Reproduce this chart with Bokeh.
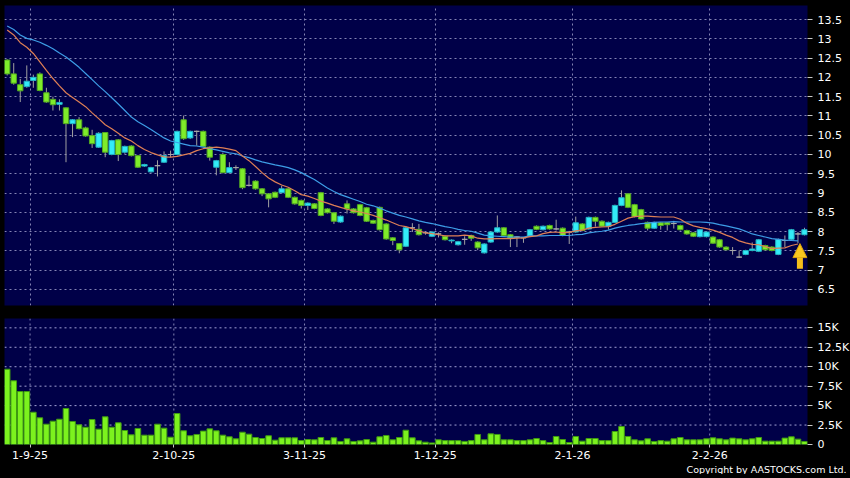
from bokeh.plotting import figure
from bokeh.layouts import column
from bokeh.models import (ColumnDataSource, FixedTicker, Range1d, Arrow, NormalHead, Title, Span)
from bokeh.embed import file_html
from bokeh.resources import INLINE

# ---------------- data ----------------
opens = [12.45, 12.09, 11.81, 11.76, 11.92, 12.09, 11.60, 11.43, 11.30, 11.21,
         10.80, 10.90, 10.69, 10.49, 10.19, 10.57, 10.00, 10.38, 10.06, 10.22,
         9.97, 9.70, 9.55, 9.71, 9.80, 10.00, 10.00, 10.90, 10.43, 10.60,
         10.60, 10.19, 9.67, 10.00, 9.53, 9.66, 9.63, 9.20, 9.31, 9.11,
         8.98, 9.02, 9.01, 9.11, 8.89, 8.81, 8.68, 8.72, 9.01, 8.59,
         8.49, 8.25, 8.72, 8.59, 8.70, 8.62, 8.29, 8.63, 8.20, 7.84,
         7.69, 7.62, 8.10, 8.06, 7.97, 7.88, 7.94, 7.88, 7.76, 7.66,
         7.80, 7.90, 7.73, 7.45, 7.73, 7.99, 8.10, 7.92, 7.86, 7.84,
         7.88, 8.14, 8.05, 8.16, 8.07, 8.09, 7.99, 7.99, 8.20, 8.07,
         8.37, 8.27, 8.14, 8.24, 8.68, 8.98, 8.70, 8.57, 8.24, 8.09,
         8.23, 8.23, 8.21, 8.16, 8.03, 7.97, 7.87, 7.87, 7.86, 7.79,
         7.60, 7.51, 7.34, 7.41, 7.51, 7.49, 7.64, 7.60, 7.41, 7.77,
         7.80, 7.94, 7.92]
highs = [12.47, 12.37, 11.96, 12.31, 12.07, 12.13, 11.73, 11.50, 11.43, 11.22,
         10.92, 10.97, 10.72, 10.64, 10.58, 10.58, 10.38, 10.40, 10.23, 10.24,
         9.99, 9.76, 9.68, 9.85, 10.08, 10.10, 10.62, 11.01, 10.62, 10.62,
         10.62, 10.21, 9.86, 10.05, 9.80, 9.72, 9.65, 9.45, 9.33, 9.13,
         9.00, 9.04, 9.19, 9.13, 8.91, 8.83, 8.76, 8.74, 9.03, 8.61,
         8.51, 8.42, 8.81, 8.61, 8.72, 8.64, 8.31, 8.65, 8.22, 7.86,
         7.70, 8.12, 8.22, 8.20, 8.00, 8.01, 7.98, 7.90, 7.80, 7.76,
         7.88, 7.92, 7.75, 7.70, 8.01, 8.42, 8.12, 7.94, 7.88, 7.86,
         8.07, 8.16, 8.16, 8.18, 8.31, 8.11, 8.02, 8.39, 8.22, 8.39,
         8.39, 8.29, 8.26, 8.70, 9.07, 9.00, 8.72, 8.59, 8.26, 8.26,
         8.25, 8.25, 8.28, 8.18, 8.05, 7.99, 8.07, 8.01, 7.88, 7.81,
         7.62, 7.60, 7.51, 7.53, 7.72, 7.81, 7.66, 7.62, 7.82, 7.90,
         8.07, 7.99, 8.10]
lows = [12.05, 11.81, 11.36, 11.73, 11.73, 11.64, 11.34, 11.14, 11.14, 9.80,
        10.45, 10.65, 10.46, 10.17, 10.17, 9.93, 9.98, 9.83, 10.02, 9.95,
        9.65, 9.68, 9.53, 9.43, 9.78, 9.93, 9.98, 10.38, 10.40, 10.23,
        10.19, 9.84, 9.46, 9.51, 9.51, 9.60, 9.10, 9.17, 9.09, 8.92,
        8.63, 8.87, 8.99, 8.87, 8.70, 8.60, 8.56, 8.58, 8.40, 8.47,
        8.20, 8.23, 8.47, 8.47, 8.40, 8.25, 8.20, 8.03, 7.79, 7.65,
        7.44, 7.60, 7.99, 7.90, 7.92, 7.86, 7.85, 7.77, 7.70, 7.64,
        7.66, 7.76, 7.52, 7.43, 7.71, 7.97, 7.88, 7.60, 7.60, 7.71,
        7.86, 8.04, 8.03, 8.05, 8.03, 7.88, 7.68, 7.97, 8.01, 8.05,
        8.13, 8.12, 8.05, 8.22, 8.66, 8.61, 8.37, 8.31, 8.03, 8.07,
        8.05, 8.03, 8.08, 8.03, 7.92, 7.86, 7.85, 7.85, 7.68, 7.58,
        7.51, 7.40, 7.32, 7.39, 7.49, 7.47, 7.51, 7.49, 7.39, 7.60,
        7.78, 7.70, 7.90]
closes = [12.09, 11.85, 11.65, 11.90, 12.00, 11.66, 11.36, 11.29, 11.35, 10.80,
          10.90, 10.67, 10.48, 10.28, 10.55, 10.06, 10.36, 10.00, 10.21, 9.97,
          9.67, 9.74, 9.66, 9.71, 9.97, 10.00, 10.60, 10.41, 10.60, 10.60,
          10.21, 9.93, 9.84, 9.53, 9.66, 9.66, 9.14, 9.20, 9.11, 8.98,
          8.85, 8.89, 9.11, 8.89, 8.72, 8.68, 8.74, 8.60, 8.42, 8.49,
          8.27, 8.40, 8.59, 8.49, 8.42, 8.27, 8.22, 8.05, 7.81, 7.77,
          7.53, 8.10, 8.10, 7.92, 7.97, 7.99, 7.94, 7.79, 7.78, 7.74,
          7.80, 7.83, 7.58, 7.68, 7.99, 8.10, 7.90, 7.83, 7.86, 7.84,
          8.05, 8.06, 8.14, 8.07, 8.07, 7.90, 7.99, 8.23, 8.03, 8.37,
          8.27, 8.14, 8.24, 8.68, 8.88, 8.63, 8.39, 8.33, 8.09, 8.24,
          8.16, 8.18, 8.21, 8.05, 7.94, 7.88, 8.05, 7.99, 7.70, 7.60,
          7.53, 7.51, 7.34, 7.51, 7.55, 7.79, 7.53, 7.51, 7.80, 7.77,
          8.05, 7.94, 8.05]
volumes = [9680, 8190, 6810, 6810, 4150, 3430, 2610, 3000, 3250, 4630,
           2960, 2530, 2220, 3210, 1970, 3560, 2220, 2790, 1800, 1240,
           2060, 1200, 1200, 2610, 2100, 940, 3980, 1760, 1120, 1290,
           1720, 2010, 1760, 1200, 990, 730, 1580, 1330, 900, 770,
           1120, 560, 860, 860, 860, 510, 640, 600, 900, 510,
           860, 390, 730, 390, 470, 640, 300, 990, 1160, 600,
           900, 1840, 860, 470, 300, 200, 600, 500, 500, 500,
           400, 500, 1290, 600, 1370, 1290, 600, 600, 500, 500,
           600, 770, 500, 250, 1030, 640, 250, 1030, 430, 770,
           770, 500, 500, 1670, 2310, 1030, 600, 470, 730, 390,
           500, 430, 730, 900, 600, 600, 600, 730, 860, 730,
           600, 820, 730, 600, 730, 900, 430, 430, 430, 820,
           990, 690, 390]
ma10 = [13.23, 13.10, 12.90, 12.78, 12.62, 12.40, 12.18, 11.97, 11.78, 11.60,
        11.48, 11.36, 11.24, 11.08, 10.93, 10.77, 10.67, 10.55, 10.43, 10.35,
        10.23, 10.13, 10.05, 9.99, 9.94, 9.93, 9.95, 9.99, 10.03, 10.10,
        10.15, 10.17, 10.19, 10.17, 10.14, 10.10, 9.96, 9.84, 9.69, 9.53,
        9.39, 9.29, 9.21, 9.15, 9.06, 8.96, 8.92, 8.86, 8.79, 8.74,
        8.68, 8.63, 8.58, 8.54, 8.51, 8.47, 8.42, 8.36, 8.30, 8.23,
        8.16, 8.13, 8.08, 8.02, 7.97, 7.95, 7.92, 7.89, 7.89, 7.89,
        7.91, 7.89, 7.83, 7.81, 7.81, 7.82, 7.82, 7.82, 7.83, 7.84,
        7.87, 7.89, 7.95, 7.98, 7.99, 7.97, 7.98, 8.02, 8.04, 8.09,
        8.11, 8.12, 8.13, 8.19, 8.27, 8.35, 8.39, 8.40, 8.40, 8.39,
        8.38, 8.38, 8.38, 8.32, 8.22, 8.15, 8.11, 8.08, 8.04, 7.98,
        7.91, 7.85, 7.76, 7.71, 7.67, 7.66, 7.61, 7.56, 7.57, 7.58,
        7.64, 7.68]
ma20 = [13.33, 13.24, 13.10, 13.01, 12.97, 12.91, 12.83, 12.74, 12.63, 12.53,
        12.40, 12.26, 12.10, 11.94, 11.78, 11.63, 11.47, 11.31, 11.14, 10.97,
        10.85, 10.75, 10.65, 10.54, 10.43, 10.35, 10.31, 10.27, 10.23, 10.22,
        10.19, 10.15, 10.12, 10.08, 10.04, 10.02, 9.96, 9.92, 9.86, 9.81,
        9.77, 9.73, 9.70, 9.66, 9.60, 9.53, 9.44, 9.35, 9.24, 9.13,
        9.04, 8.96, 8.90, 8.84, 8.78, 8.71, 8.67, 8.61, 8.54, 8.48,
        8.42, 8.38, 8.33, 8.28, 8.24, 8.21, 8.17, 8.13, 8.10, 8.06,
        8.03, 8.01, 7.96, 7.91, 7.89, 7.88, 7.87, 7.86, 7.86, 7.86,
        7.89, 7.89, 7.89, 7.90, 7.90, 7.90, 7.90, 7.92, 7.93, 7.97,
        7.99, 8.01, 8.04, 8.09, 8.13, 8.16, 8.18, 8.21, 8.22, 8.24,
        8.25, 8.25, 8.26, 8.25, 8.25, 8.25, 8.25, 8.24, 8.22, 8.18,
        8.15, 8.11, 8.07, 8.01, 7.94, 7.90, 7.86, 7.82, 7.80, 7.78,
        7.77, 7.76]
date_tick_bars = [4, 26, 46, 66, 87, 108]
date_tick_labels = ["1-9-25", "2-10-25", "3-11-25", "1-12-25", "2-1-26", "2-2-26"]
price_ticks = [6.5, 7.0, 7.5, 8.0, 8.5, 9.0, 9.5, 10.0, 10.5, 11.0, 11.5, 12.0, 12.5, 13.0, 13.5]
price_tick_labels = ["6.5", "7", "7.5", "8", "8.5", "9", "9.5", "10", "10.5", "11", "11.5", "12", "12.5", "13", "13.5"]
vol_ticks = [0, 2500, 5000, 7500, 10000, 12500, 15000]
vol_tick_labels = ["0", "2.5K", "5K", "7.5K", "10K", "12.5K", "15K"]

# ---------------- styling ----------------
NAVY = "#000048"
GRID = "#8484b4"
GRID_H2 = "#a2a2d4"
UP_FILL, UP_LINE = "#33ecf8", "#22b2c4"
DN_FILL, DN_LINE = "#7fec2a", "#52a820"
DOJI = "#a8a8a8"
WICK = "#a0a0a0"
FONT = "DejaVu Sans"

n = len(closes)
xs = list(range(n))
fills, lines_c = [], []
for o, c in zip(opens, closes):
    if c > o:
        fills.append(UP_FILL); lines_c.append(UP_LINE)
    elif c < o:
        fills.append(DN_FILL); lines_c.append(DN_LINE)
    else:
        fills.append(DOJI); lines_c.append(DOJI)

src = ColumnDataSource(dict(
    x=xs, high=highs, low=lows,
    top=[max(o, c) for o, c in zip(opens, closes)],
    bottom=[min(o, c) for o, c in zip(opens, closes)],
    fill=fills, line=lines_c, vol=volumes))

x_range = Range1d(-0.41, 122.46)
grid_positions = [b - 0.5 for b in date_tick_bars]


def style_yaxis(ax, ticks, labels):
    ax.ticker = FixedTicker(ticks=ticks)
    ax.major_label_overrides = {t: l for t, l in zip(ticks, labels)}
    ax.axis_line_color = None
    ax.major_tick_line_color = "#c8c8c8"
    ax.major_tick_in = 0
    ax.major_tick_out = 5
    ax.minor_tick_line_color = None
    ax.major_label_standoff = 5
    ax.major_label_text_color = "white"
    ax.major_label_text_font = FONT
    ax.major_label_text_font_size = "11px"


def style_grids(p, yticks):
    for g in p.xgrid:
        g.ticker = FixedTicker(ticks=grid_positions)
        g.grid_line_color = GRID
        g.grid_line_dash = "2 3"
        g.grid_line_width = 1
    for g in p.ygrid:
        g.ticker = FixedTicker(ticks=yticks)
        g.grid_line_color = GRID
        g.grid_line_dash = "2 3"
        g.grid_line_width = 1


# ---------------- price panel ----------------
p1 = figure(frame_width=803, frame_height=300, x_range=x_range,
            y_range=Range1d(6.085, 13.863), output_backend="svg",
            toolbar_location=None, x_axis_location=None, y_axis_location="right",
            background_fill_color=NAVY, border_fill_color="black",
            outline_line_color=None, min_border_left=4, min_border_top=5,
            min_border_bottom=7, min_border_right=43)
style_yaxis(p1.yaxis[0], price_ticks, price_tick_labels)
style_grids(p1, price_ticks)

p1.segment(x0="x", y0="low", x1="x", y1="high", source=src, line_color=WICK, line_width=1)
p1.vbar(x="x", top="top", bottom="bottom", width=0.82, source=src,
        fill_color="fill", line_color="line", line_width=1)
p1.line(list(range(len(ma20))), ma20, line_color="#3d9de6", line_width=1.2)
p1.line(list(range(len(ma10))), ma10, line_color="#de7f55", line_width=1.2)

p1.add_layout(Arrow(end=NormalHead(size=14, fill_color="#f9c81e", line_color="#d9a010", line_width=1),
                    x_start=121.3, y_start=7.04, x_end=121.3, y_end=7.69,
                    line_color="#f4be1a", line_width=6))

# ---------------- volume panel ----------------
p2 = figure(frame_width=803, frame_height=126, x_range=x_range,
            y_range=Range1d(0, 16200), output_backend="svg",
            toolbar_location=None, y_axis_location="right",
            background_fill_color=NAVY, border_fill_color="black",
            outline_line_color=None, min_border_left=4, min_border_top=6,
            min_border_bottom=20, min_border_right=43)
style_yaxis(p2.yaxis[0], vol_ticks, vol_tick_labels)
for g in list(p2.xgrid) + list(p2.ygrid):
    g.grid_line_color = None
for loc in vol_ticks[1:]:
    p2.add_layout(Span(location=loc, dimension="width", line_color=GRID_H2,
                       line_dash="2 3", line_width=1, level="underlay"))
for loc in grid_positions:
    p2.add_layout(Span(location=loc, dimension="height", line_color=GRID,
                       line_dash="2 3", line_width=1, level="underlay"))

xa = p2.xaxis[0]
xa.ticker = FixedTicker(ticks=grid_positions)
xa.major_label_overrides = {t: l for t, l in zip(grid_positions, date_tick_labels)}
xa.axis_line_color = None
xa.major_tick_line_color = "#c8c8c8"
xa.major_tick_in = 0
xa.major_tick_out = 3
xa.minor_tick_line_color = None
xa.major_label_standoff = 3
xa.major_label_text_color = "white"
xa.major_label_text_font = FONT
xa.major_label_text_font_size = "11px"

p2.vbar(x="x", top="vol", bottom=0, width=0.86, source=src,
        fill_color="#7cf21e", line_color="#3f9a12", line_width=1)

p2.add_layout(Title(text="Copyright by AASTOCKS.com Ltd.", align="right",
                    text_color="white", text_font=FONT, text_font_size="9.5px",
                    text_font_style="normal", standoff=0, offset=-39), "below")

layout = column(p1, p2, spacing=0)

page_style = ("{% block preamble %}<style>html, body {margin: 0 !important; padding: 0 !important;"
              " background: #000000 !important;}</style>{% endblock %}")
open("out.html", "w").write(file_html(layout, INLINE, template=page_style))
